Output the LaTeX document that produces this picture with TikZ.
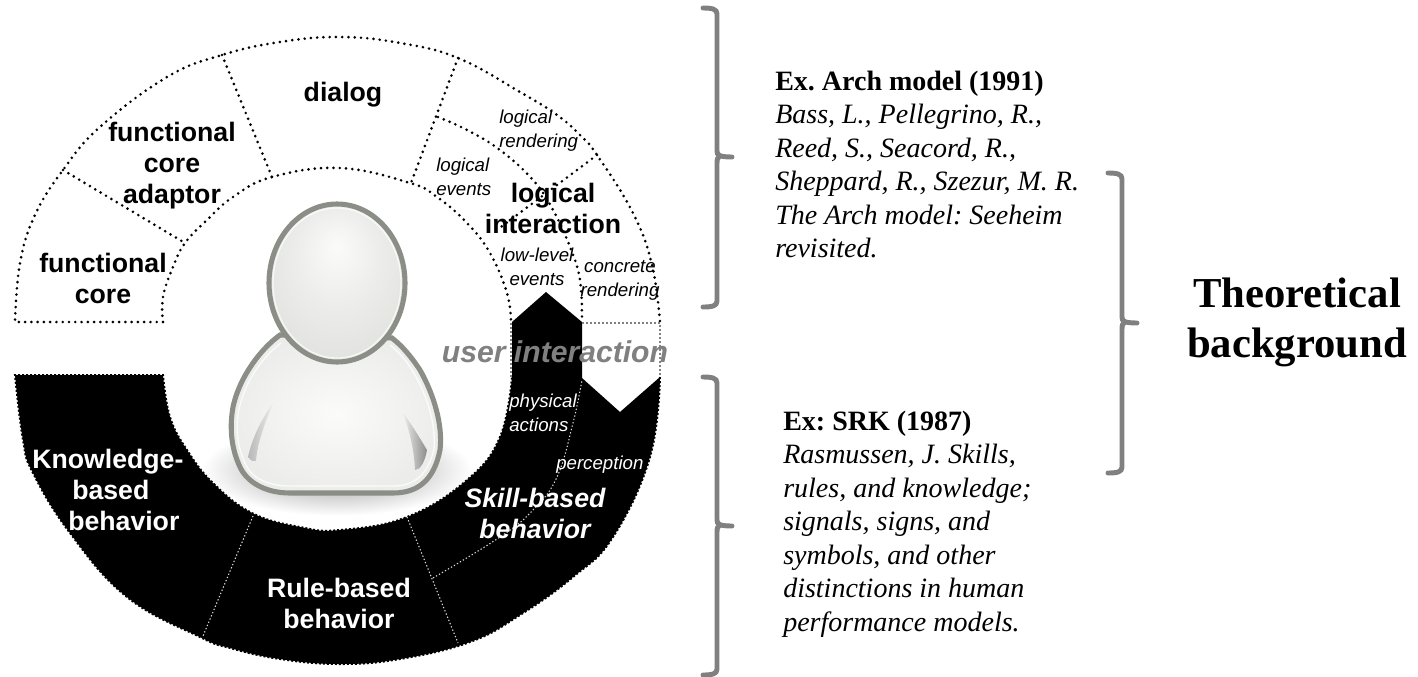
\documentclass[tikz,border=0pt]{standalone}
\usepackage{fontspec}
\setmainfont{Liberation Serif}
\setsansfont{Liberation Sans}
\definecolor{brk}{HTML}{808080}
\definecolor{uitxt}{HTML}{808080}
\definecolor{outl}{HTML}{8B8D87}
\definecolor{hhi}{HTML}{FBFBFA}
\definecolor{hmid}{HTML}{ECECEA}
\definecolor{hlo}{HTML}{DCDCD9}
\pgfdeclareradialshading{headsh}{\pgfpoint{0bp}{12bp}}{color(0bp)=(hhi); color(16bp)=(hmid); color(38bp)=(hlo); color(50bp)=(hlo)}
\tikzset{
  sbold/.style={inner sep=0pt,font=\sffamily\bfseries\fontsize{20}{23.25}\selectfont,align=center,anchor=north},
  sital/.style={inner sep=0pt,font=\sffamily\itshape\fontsize{14}{18}\selectfont,align=center,anchor=north},
  refs/.style={inner sep=0pt,font=\rmfamily\frenchspacing\fontsize{21}{25.1}\selectfont,align=left,anchor=north west},
  dotline/.style={line width=2.2pt,line cap=round,dash pattern=on 0pt off 4.7pt},
  greydots/.style={draw=brk,line width=1.4pt,dash pattern=on 1.4pt off 1.6pt},
  whitedots/.style={draw=white!85!black,line width=0.8pt,dash pattern=on 1pt off 1.6pt},
  blackedge/.style={draw=black,line width=1.5pt,dash pattern=on 1.5pt off 1.5pt},
  bracket/.style={draw=brk,line width=3.7pt,line cap=round,fill=none},
  smoothp/.style={smooth,tension=0.7}
}
\newcommand{\bracketshape}[4]{%
  \draw[bracket] ({#1-14},#2) .. controls ({#1-5},#2) and (#1,{#2+1}) .. (#1,{#2+6}) -- (#1,{#3-6}) .. controls (#1,{#3-2}) and ({#1+2},#3) .. ({#1+15},#3);
  \draw[bracket] ({#1-14},#4) .. controls ({#1-5},#4) and (#1,{#4-1}) .. (#1,{#4-6}) -- (#1,{#3+6}) .. controls (#1,{#3+2}) and ({#1+1},#3) .. ({#1+2},#3);
}
\begin{document}
\begin{tikzpicture}[x=0.75pt,y=-0.75pt]
\useasboundingbox (0,0) rectangle (1418,676);
\fill[white] (0,0) rectangle (1418,676);

% person: shadow
\shade[inner color=black!42,outer color=white] (337,470) ellipse [x radius=135,y radius=46];
% body
\def\bodypath{(280,335) .. controls (262,348) and (240,375) .. (233,407) .. controls (229,430) and (232,450) .. (240,467) .. controls (247,482) and (265,493) .. (290,493) -- (393,493) .. controls (418,493) and (434,480) .. (440,450) .. controls (443,425) and (434,395) .. (420,370) .. controls (410,355) and (402,346) .. (392,338) -- cycle}
\shade[inner color=hhi,outer color=hmid] \bodypath;
% arm creases
\shade[left color=black!28,right color=hmid] (273,403) .. controls (258,425) and (252,440) .. (248,457) .. controls (251,461) and (254,462) .. (256,461) .. controls (257,445) and (264,425) .. (273,403) -- cycle;
\shade[left color=hmid,right color=black!45] (403,413) .. controls (410,432) and (414,450) .. (415,470) .. controls (420,470) and (425,462) .. (427,450) .. controls (418,435) and (412,425) .. (403,413) -- cycle;
\draw[white,opacity=0.8,line width=1pt] (281,343) .. controls (265,355) and (246,378) .. (239,409) .. controls (235,430) and (238,448) .. (245,463) .. controls (251,478) and (268,486) .. (290,486) -- (393,486) .. controls (414,486) and (428,475) .. (434,449) .. controls (436,425) and (428,398) .. (414,373) .. controls (406,360) and (398,351) .. (390,345);
\draw[outl,line width=3.8pt] \bodypath;
% head
\shade[shading=headsh] (337,283) ellipse [x radius=68,y radius=79];
\draw[white,opacity=0.7,line width=1pt] (337,283) ellipse [x radius=64,y radius=75];
\draw[outl,line width=3.8pt] (337,283) ellipse [x radius=68,y radius=79];

% upper half outlines
\draw[dotline] (163,322) -- (15,322) -- plot[smoothp] coordinates {(15,322) (20,263) (35,215) (63,170) (100,127) (167,77) (222,55) (280,42) (340,37) (400,43) (458,58) (520,92) (557,115) (580,135) (597,155) (633,213) (652,265) (660,322)};
\draw[dotline] plot[smoothp] coordinates {(163,322) (163,297) (173,267) (185,243) (207,220) (233,197) (272,177) (340,168) (410,183) (437,197) (467,223) (490,253) (507,293) (511,322)};
\draw[dotline] (63,170) -- (185,243);
\draw[dotline] (222,55) -- (272,177);
\draw[dotline] (458,58) -- (411,183);
\draw[dotline] (597,155) -- (497,230);
\draw[dotline] plot[smoothp] coordinates {(438,117) (467,130) (500,150) (533,180) (553,210) (570,247) (580,280) (582,322)};

% black lower half
\def\blackout{(660,377) (650,457) (613,537) (573,577) (520,615) (470,642) (400,659) (340,664) (280,659) (230,648) (200,637) (127,597) (70,533) (33,473) (23,440) (15,375)}
\def\blackin{(163,375) (170,417) (187,450) (213,483) (252,513) (300,527) (340,530) (407,517) (467,480) (500,437) (512,377)}
\fill[black] plot[smoothp] coordinates {\blackout} -- plot[smoothp] coordinates {\blackin} -- (512,322) -- (546,292) -- (582,322) -- (582,378) -- (620,412) -- cycle;
\draw[blackedge] plot[smoothp] coordinates {\blackout} -- plot[smoothp] coordinates {\blackin};

% grey dotted box
\draw[greydots] (582,323) -- (660,323) -- (660,375);
\draw[greydots] (511,323) -- (511,377);

% white dotted lines inside the black area
\draw[whitedots] (253,516) -- (203,636);
\draw[whitedots] (407,517) -- (458,643);
\draw[whitedots] plot[smoothp] coordinates {(433,578) (500,537) (533,510) (557,477) (573,423) (582,380)};

% labels
\node[sbold] (dialog) at (343,80) {\strut dialog};
\node[sbold] (fca) at (172,119.3) {\strut functional\\core\\adaptor};
\node[sbold] (fc) at (103,250.3) {\strut functional\\core};
\node[sbold] (li) at (553,180.3) {\strut logical\\interaction};
\node[sital,align=left,anchor=north west] (lr) at (499,106) {\strut logical\\rendering};
\node[sital,align=left,anchor=north west] (le) at (436,154) {\strut logical\\events};
\node[sital] (lle) at (537,244) {\strut low-level\\events};
\node[sital] (cr) at (620,255) {\strut concrete\\rendering};
\node[sbold,align=left,anchor=north west,text=white] (kb) at (32,446.3) {\strut Knowledge-\\\hspace*{30pt}based\\\hspace*{27pt}behavior};
\node[sbold,text=white] (rb) at (339,575.3) {\strut Rule-based\\behavior};
\node[sbold,text=white,font=\sffamily\bfseries\itshape\fontsize{20}{23.25}\selectfont] (sb) at (535,485.3) {\strut Skill-based\\behavior};
\node[sital,align=left,anchor=north west,text=white] (pa) at (509,390) {\strut physical\\actions};
\node[sital,align=left,anchor=north west,text=white] (pc) at (556,452) {\strut perception};
\node[inner sep=0pt,anchor=north,text=uitxt,font=\sffamily\bfseries\itshape\fontsize{22.6}{27}\selectfont] (ui) at (555,336.8) {\strut user interaction};

% references
\node[refs] (arch) at (775,66.5) {\strut\textbf{Ex. Arch model (1991)}\\\textit{Bass, L., Pellegrino, R.,}\\\textit{Reed, S., Seacord, R.,}\\\textit{Sheppard, R., Szezur, M. R.}\\\textit{The Arch model: Seeheim}\\\textit{revisited.}};
\node[refs] (srk) at (783,406.7) {\strut\textbf{Ex: SRK (1987)}\\\textit{Rasmussen, J. Skills,}\\\textit{rules, and knowledge;}\\\textit{signals, signs, and}\\\textit{symbols, and other}\\\textit{distinctions in human}\\\textit{performance models.}};
\node[inner sep=0pt,align=center,anchor=north,font=\rmfamily\bfseries\fontsize{32}{37.5}\selectfont] (tb) at (1297,272) {\strut Theoretical\\background};

% brackets
\bracketshape{717}{8}{157}{307}
\bracketshape{717}{377}{526}{675}
\bracketshape{1122}{173}{323}{473}
\end{tikzpicture}
\end{document}
